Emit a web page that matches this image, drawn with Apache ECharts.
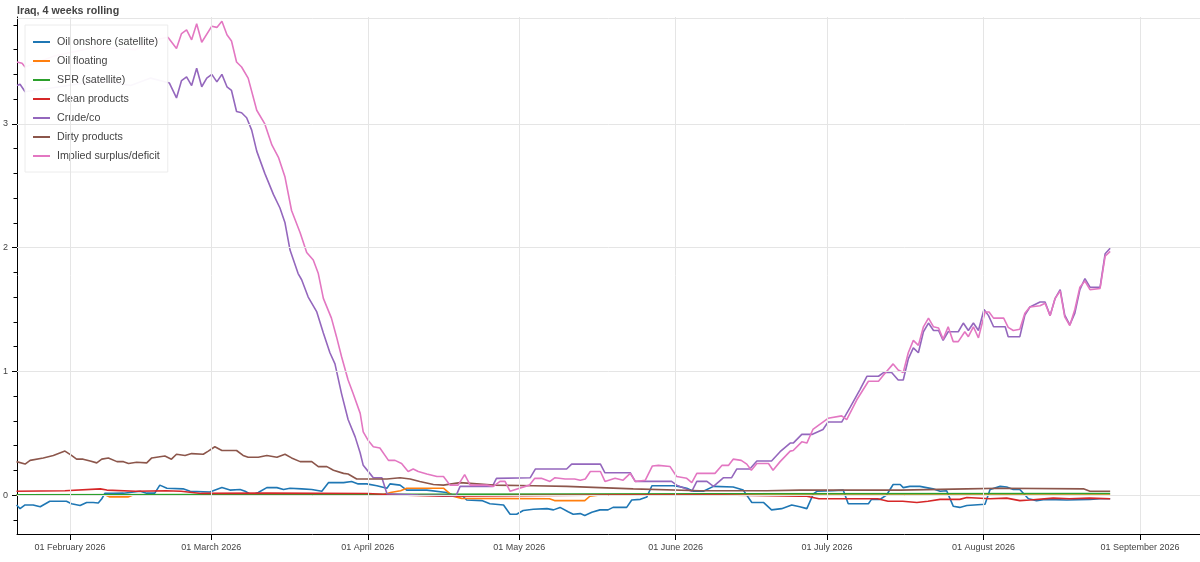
<!DOCTYPE html>
<html>
<head>
<meta charset="utf-8">
<script src="https://cdn.jsdelivr.net/npm/echarts@6/dist/echarts.min.js"></script>
<style>
html,body{margin:0;padding:0;background:#fff;}
#chart{width:1200px;height:562px;}
</style>
</head>
<body>
<div id="chart"></div>
<script>
// x values are days since 2026-01-01
const seriesNames = ['Oil onshore (satellite)','Oil floating','SPR (satellite)','Clean products','Crude/co','Dirty products','Implied surplus/deficit'];
const seriesColors = ['#1f77b4','#ff7f0e','#2ca02c','#d62728','#9467bd','#8c564b','#e377c2'];
const monthTicks = ['2026-02-01','2026-03-01','2026-04-01','2026-05-01','2026-06-01','2026-07-01','2026-08-01','2026-09-01'];
const monthNames = ['January','February','March','April','May','June','July','August','September','October','November','December'];
const yLabelValues = [0,1,2,3];

const onshore = [[20.4,-0.08],[21.1,-0.11],[22.1,-0.08],[23.7,-0.08],[25.1,-0.095],[27,-0.05],[30.3,-0.05],[31.3,-0.07],[33,-0.085],[34.3,-0.06],[35.6,-0.06],[36.6,-0.065],[37.3,-0.03],[37.9,0.013],[39.6,0.013],[41.6,0.015],[44.9,0.03],[46.2,0.015],[47.8,0.015],[48.8,0.08],[50.2,0.055],[53.4,0.05],[54.8,0.03],[58.7,0.025],[61.1,0.06],[62.7,0.04],[64.7,0.045],[65.7,0.03],[67,0.0],[68.3,0.02],[70,0.06],[72,0.06],[73.3,0.045],[74.6,0.055],[76.9,0.05],[78.9,0.045],[80.9,0.03],[82.2,0.10],[85.2,0.10],[86.8,0.11],[88.1,0.09],[89.8,0.09],[91.8,0.075],[93.8,0.055],[94.4,0.09],[96.4,0.08],[97.7,0.04],[101.7,0.04],[105.6,0.02],[106.9,0.0],[108.6,0.0],[109.6,-0.04],[112.6,-0.045],[114.2,-0.07],[116.9,-0.08],[118.2,-0.155],[119.5,-0.155],[120.8,-0.125],[122.8,-0.115],[125.5,-0.11],[126.8,-0.12],[128.1,-0.10],[129.7,-0.135],[130.7,-0.155],[132.1,-0.15],[133,-0.165],[134.4,-0.14],[136,-0.12],[137.6,-0.12],[138.6,-0.10],[141.3,-0.10],[142.3,-0.04],[144,-0.035],[145.3,-0.015],[146.3,0.075],[150.5,0.075],[151.5,0.07],[153.2,0.055],[154.5,0.03],[156.5,0.03],[158.5,0.07],[162.4,0.065],[164.4,0.04],[166.1,-0.06],[168.4,-0.06],[170,-0.12],[172,-0.11],[174,-0.08],[175.6,-0.095],[177,-0.11],[178.3,0.01],[179,0.03],[182.2,0.035],[184.2,0.04],[185.2,-0.07],[189.2,-0.07],[189.8,-0.035],[191.5,-0.035],[192.8,0.0],[194.1,0.085],[195.5,0.085],[196.1,0.06],[197.4,0.07],[199.4,0.07],[200.7,0.06],[202,0.05],[203.4,0.03],[204.7,0.035],[206,-0.09],[207.3,-0.10],[208.7,-0.085],[212.3,-0.075],[213.3,0.045],[215.3,0.07],[216.6,0.065],[217.9,0.045],[219.2,0.045],[220.9,-0.03],[222.5,-0.045],[224.2,-0.035],[228.5,-0.04],[233.1,-0.035],[235.1,-0.03],[237.1,-0.03]];

const floating = [[20.4,0.0],[38,0.0],[38.9,-0.015],[42.5,-0.015],[43.5,0.0],[93,0.0],[94.5,0.02],[96.5,0.035],[97.7,0.055],[105,0.055],[106.9,-0.01],[108.6,-0.027],[126,-0.03],[127,-0.045],[133,-0.045],[134,-0.01],[136,0.0],[237.1,0.0]];

const spr = [[20.4,0.002],[100,0.005],[160,0.01],[237.1,0.012]];

const clean = [[20.4,0.03],[30,0.035],[37,0.05],[38.3,0.04],[44,0.03],[50,0.035],[53,0.03],[57,0.013],[70,0.015],[90,0.012],[96,0.0],[105,-0.01],[120,-0.005],[140,0.0],[160,0.0],[175.6,-0.01],[177,-0.01],[179.4,-0.03],[191,-0.03],[193.1,-0.05],[196,-0.05],[198.8,-0.06],[201,-0.05],[203.4,-0.035],[207.3,-0.035],[208.7,-0.02],[213.3,-0.03],[216.6,-0.025],[219.2,-0.045],[221.2,-0.04],[225.8,-0.025],[229,-0.03],[233,-0.025],[237.1,-0.03]];

const crude = [[20.5,3.31],[21.1,3.32],[22.1,3.26],[29,3.30],[37,3.35],[43,3.31],[47,3.37],[50.7,3.33],[52.1,3.21],[53.1,3.35],[54.1,3.38],[55.1,3.31],[56.1,3.45],[57.1,3.30],[58.1,3.37],[59.1,3.40],[60.1,3.34],[61.1,3.40],[62.1,3.30],[63,3.27],[64,3.10],[65,3.09],[66,3.05],[67,2.95],[68,2.78],[69.6,2.60],[71.3,2.43],[72.6,2.32],[73.6,2.20],[74.6,1.98],[76.2,1.79],[76.9,1.74],[78.2,1.60],[79.9,1.48],[81.2,1.31],[82.5,1.15],[83.5,1.06],[84.8,0.82],[86.1,0.61],[87.5,0.47],[88.5,0.34],[89.1,0.24],[90.4,0.175],[91.1,0.14],[92.8,0.14],[93.8,0.01],[100,0.0],[107.5,-0.005],[108.3,0.07],[114.7,0.07],[115.5,0.135],[122.2,0.14],[123.2,0.21],[129.4,0.21],[130.4,0.25],[136.1,0.25],[137,0.18],[142,0.18],[143,0.11],[150.2,0.11],[151.2,0.08],[154.2,0.03],[155.2,0.11],[157.2,0.11],[158.5,0.07],[160.5,0.14],[162.1,0.14],[163.1,0.21],[165.7,0.21],[167.1,0.275],[170,0.275],[171.7,0.35],[173.7,0.42],[174.3,0.42],[176,0.49],[178,0.49],[180.2,0.53],[181.2,0.59],[183.9,0.59],[185.6,0.71],[187.5,0.85],[188.9,0.96],[191.2,0.96],[192.2,0.99],[193.8,0.99],[195.1,0.93],[196.1,0.93],[197.1,1.10],[198.1,1.19],[199.1,1.15],[200.1,1.32],[201.1,1.39],[202.1,1.33],[203.1,1.33],[204,1.25],[205,1.32],[207,1.32],[208,1.39],[209,1.33],[210,1.39],[211,1.33],[212.1,1.50],[213,1.45],[214,1.36],[216.3,1.36],[216.9,1.28],[219.2,1.28],[220.2,1.455],[221.2,1.52],[223.2,1.56],[224.2,1.56],[225.2,1.45],[226.2,1.59],[227.2,1.66],[228.1,1.455],[229.1,1.375],[230.1,1.47],[231.1,1.66],[232.1,1.75],[233.1,1.68],[235.1,1.68],[236.1,1.95],[237.1,1.995]];

const dirty = [[20.4,0.27],[22.1,0.25],[23.1,0.28],[25.7,0.30],[27.7,0.32],[30,0.355],[31.3,0.32],[32.3,0.29],[33.6,0.29],[35,0.275],[36.3,0.26],[37.3,0.29],[38.6,0.30],[40.3,0.27],[41.6,0.27],[42.6,0.255],[44.2,0.265],[46.2,0.26],[47.2,0.30],[48.8,0.31],[49.8,0.315],[51.1,0.29],[52.1,0.33],[53.8,0.32],[55.1,0.335],[57.4,0.33],[58.4,0.355],[59.7,0.39],[61.1,0.36],[64,0.36],[65.3,0.32],[66.3,0.305],[68.3,0.305],[70,0.32],[72,0.305],[73.6,0.33],[74.9,0.30],[76.6,0.27],[78.9,0.27],[80.2,0.23],[81.9,0.23],[83.2,0.20],[85.2,0.175],[86.1,0.17],[87.8,0.13],[93.8,0.13],[96.4,0.14],[98.4,0.13],[100.3,0.11],[103,0.085],[105,0.08],[108.3,0.10],[111.6,0.09],[114.9,0.08],[122.8,0.075],[129.4,0.07],[136,0.06],[142.6,0.05],[155.8,0.035],[169,0.035],[175.6,0.04],[195.5,0.04],[208.7,0.05],[215.3,0.055],[231.8,0.05],[233.1,0.03],[237.1,0.03]];

const implied = [[20.5,3.50],[21.5,3.49],[22.1,3.46],[28,3.55],[36,3.62],[44,3.60],[48,3.68],[50.4,3.70],[52.1,3.61],[53.1,3.73],[54.1,3.76],[55.1,3.68],[56.1,3.81],[57.1,3.66],[59.1,3.79],[60.1,3.78],[61.1,3.83],[62.1,3.72],[63,3.67],[64,3.50],[65,3.46],[66.3,3.37],[68,3.11],[69.6,3.00],[71,2.83],[72.3,2.73],[73.6,2.57],[74.9,2.30],[76.6,2.12],[77.9,1.96],[79.2,1.90],[80.2,1.79],[81.2,1.59],[82.8,1.43],[83.8,1.28],[84.8,1.12],[86.1,0.93],[87.1,0.82],[88.5,0.66],[89.1,0.51],[90.1,0.44],[91.1,0.39],[92.4,0.38],[94.1,0.28],[95.4,0.28],[96.7,0.255],[98,0.19],[99,0.21],[100,0.19],[101.7,0.17],[103.7,0.15],[105,0.15],[106.3,0.08],[107.9,0.08],[109.2,0.165],[110.3,0.08],[113.6,0.08],[114.9,0.07],[116.2,0.11],[117.2,0.11],[118.2,0.03],[122,0.08],[123.1,0.135],[124.4,0.135],[126.1,0.11],[127.1,0.14],[129.1,0.13],[131,0.13],[132.1,0.12],[133.1,0.13],[134.1,0.19],[136.1,0.19],[137,0.11],[139,0.135],[140.6,0.12],[142,0.175],[143,0.11],[145,0.12],[146.4,0.235],[147.6,0.24],[149.9,0.23],[151.2,0.15],[153.2,0.135],[154.2,0.10],[155.2,0.175],[158.8,0.175],[160.2,0.24],[161.5,0.24],[162.4,0.29],[164,0.28],[165.1,0.25],[166,0.20],[167.1,0.255],[169.4,0.255],[170.3,0.20],[171.7,0.27],[173.7,0.355],[174.3,0.36],[176,0.43],[177,0.42],[178.2,0.53],[181.2,0.62],[183.9,0.64],[184.9,0.61],[186.9,0.77],[189.2,0.92],[191.2,0.92],[192.2,0.97],[194.1,1.06],[195.1,1.01],[196.1,0.99],[197.1,1.15],[198.1,1.25],[199.1,1.21],[200.1,1.36],[201.1,1.43],[202.1,1.36],[203.1,1.35],[204,1.26],[205,1.36],[206,1.24],[207,1.24],[208.3,1.32],[209,1.28],[210,1.36],[211,1.27],[212.3,1.48],[213.1,1.48],[214,1.43],[216,1.43],[216.9,1.355],[217.9,1.33],[219.2,1.34],[220.2,1.47],[221.2,1.52],[223.2,1.53],[224.2,1.55],[225.2,1.45],[226.2,1.59],[227.2,1.65],[228.1,1.44],[229.1,1.37],[230.1,1.50],[231.1,1.68],[232.1,1.73],[233.1,1.66],[235.1,1.67],[236.1,1.93],[237.1,1.97]];

const DAY0 = Date.UTC(2026,0,1);
const DAYMS = 86400000;
const toTs = d => DAY0 + d * DAYMS;
const seriesValues = [onshore, floating, spr, clean, crude, dirty, implied];
const monthTs = monthTicks.map(s => Date.parse(s + 'T00:00:00Z'));
const yMinorValues = [];
for (let k = -1; k <= 19; k++) if (k % 5 !== 0) yMinorValues.push(Math.round(k * 2) / 10);
const FONT = 'Liberation Sans, Arial, sans-serif';
const Y_MIN = -0.315, Y_MAX = 3.864;

function fmtDate(v){
  const d = new Date(v);
  const dd = String(d.getUTCDate()).padStart(2,'0');
  return dd + ' ' + monthNames[d.getUTCMonth()] + ' ' + d.getUTCFullYear();
}

const lineSeries = seriesNames.map((name, i) => ({
  name: name,
  type: 'line',
  showSymbol: false,
  symbol: 'none',
  z: 3,
  color: seriesColors[i],
  lineStyle: {width: 1.6, color: seriesColors[i]},
  data: seriesValues[i].map(p => [toTs(p[0]), p[1]])
}));
// grid lines, drawn through the axis scales
lineSeries.unshift({
  name: 'gridLines',
  type: 'line',
  data: [],
  z: 1,
  silent: true,
  markLine: {
    silent: true, symbol: 'none', animation: false,
    label: {show: false},
    lineStyle: {color: '#e5e5e5', width: 1, type: 'solid'},
    emphasis: {disabled: true},
    data: monthTs.map(v => ({xAxis: v})).concat(yLabelValues.concat([3.855]).map(v => ({yAxis: v})))
  }
});

const chart = echarts.init(document.getElementById('chart'), null, {renderer:'canvas'});
chart.setOption({
  animation: false,
  backgroundColor: '#ffffff',
  textStyle: {fontFamily: FONT},
  title: {
    text: 'Iraq, 4 weeks rolling',
    left: 12, top: 1,
    textStyle: {fontSize: 10.7, fontWeight: 'bold', color: '#444444', fontFamily: FONT}
  },
  legend: {
    orient: 'vertical', left: 25, top: 25,
    padding: [10, 8, 9, 8],
    itemGap: 5, itemWidth: 17, itemHeight: 2, icon: 'rect',
    backgroundColor: 'rgba(255,255,255,0.95)',
    borderColor: '#ececec', borderWidth: 1,
    textStyle: {fontSize: 10.7, color: '#444444', lineHeight: 14, padding: [0,0,0,2], fontFamily: FONT},
    data: seriesNames
  },
  grid: {left: 17, right: 0, top: 17, bottom: 28, containLabel: false},
  xAxis: {
    type: 'value',
    min: toTs(20.5), max: toTs(254.9),
    axisLine: {show: true, onZero: false, lineStyle: {color: '#000', width: 1}},
    axisTick: {show: true, length: 6, lineStyle: {color: '#000'}, customValues: monthTs},
    axisLabel: {customValues: monthTs, formatter: fmtDate, fontSize: 9, color: '#444444', margin: 9, fontFamily: FONT},
    splitLine: {show: false}
  },
  yAxis: [{
    type: 'value',
    min: Y_MIN, max: Y_MAX,
    axisLine: {show: true, onZero: false, lineStyle: {color: '#000', width: 1}},
    axisTick: {show: true, length: 5, lineStyle: {color: '#000'}, customValues: yLabelValues},
    axisLabel: {customValues: yLabelValues, fontSize: 9, color: '#444444', margin: 9, fontFamily: FONT},
    splitLine: {show: false}
  }, {
    type: 'value',
    position: 'left',
    min: Y_MIN, max: Y_MAX,
    axisLine: {show: false, onZero: false},
    axisTick: {show: true, length: 3.5, lineStyle: {color: '#000'}, customValues: yMinorValues},
    axisLabel: {show: false},
    splitLine: {show: false}
  }],
  series: lineSeries
});
</script>
</body>
</html>
